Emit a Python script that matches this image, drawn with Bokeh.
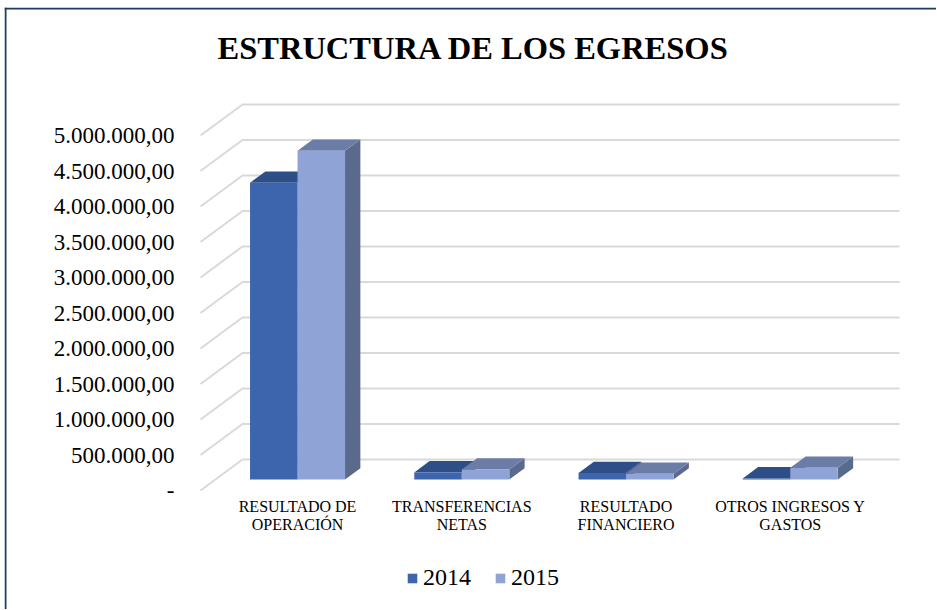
from bokeh.plotting import figure
from bokeh.models import Legend, LegendItem, Label, Span
from bokeh.core.properties import value
from bokeh.embed import file_html
from bokeh.resources import INLINE

# ---------------- data ----------------
categories = ["RESULTADO DE\nOPERACIÓN", "TRANSFERENCIAS\nNETAS",
              "RESULTADO\nFINANCIERO", "OTROS INGRESOS Y\nGASTOS"]
series_names = ["2014", "2015"]
values_2014 = [4180000, 100000, 90000, 15000]
values_2015 = [4630000, 140000, 80000, 165000]
y_ticks = [0, 500000, 1000000, 1500000, 2000000, 2500000,
           3000000, 3500000, 4000000, 4500000, 5000000]
y_tick_labels = ["-", "500.000,00", "1.000.000,00", "1.500.000,00",
                 "2.000.000,00", "2.500.000,00", "3.000.000,00",
                 "3.500.000,00", "4.000.000,00", "4.500.000,00",
                 "5.000.000,00"]
title_text = "ESTRUCTURA DE LOS EGRESOS"

# ---------------- layout constants (pixels on the page) ----------------
OX, OY = 4, 7            # page position of canvas origin
W, H = 932, 602
FRAME_L, FRAME_R, FRAME_T, FRAME_B = OX, OX + W, OY, OY + H
PX_X = 164.25            # px per category
PX_Y = 71.0 / 1e6        # px per unit value
FRONT_Y0 = 490           # page y of value 0 at front
WALL_DX_PX, WALL_DY_PX = 42, 31
F0, F1 = 0.355, 0.72     # bar depth (fraction of wall depth)
BAR_W = 47.5 / PX_X
CAT_LABEL_TOP = 497      # page y of the category label tops
TITLE_X, TITLE_Y = 473, 47
YLABEL_RIGHT = 174       # page x where value labels end
BORDER_X, BORDER_Y = 5, 8

WDX = WALL_DX_PX / PX_X
WDY = WALL_DY_PX / PX_Y
SX0, SY0 = F0 * WDX, F0 * WDY
BDX, BDY = (F1 - F0) * WDX, (F1 - F0) * WDY
XL0 = -0.5 - SX0         # data x of the floor's front-left corner
n = len(categories)

def dx(px):   # page x -> data x
    return XL0 + (px - 200) / PX_X

def dy(py):   # page y -> data y
    return (FRONT_Y0 - py) / PX_Y

p = figure(width=W, height=H, x_range=(dx(FRAME_L), dx(FRAME_R)),
           y_range=(dy(FRAME_B), dy(FRAME_T)),
           output_backend="svg", toolbar_location=None,
           x_axis_location=None, y_axis_location=None,
           min_border_left=0, min_border_right=0,
           min_border_top=0, min_border_bottom=0,
           margin=(OY, 0, 0, OX))
p.outline_line_color = None
p.background_fill_color = "white"
p.border_fill_color = "white"
p.grid.visible = False

# chart-area border (left and top edges)
p.add_layout(Span(location=dx(BORDER_X), dimension="height",
                  line_color="#1f3864", line_width=2))
p.add_layout(Span(location=dy(BORDER_Y), dimension="width",
                  line_color="#1f3864", line_width=2))

# title
p.add_layout(Label(x=dx(TITLE_X), y=dy(TITLE_Y), text=title_text,
                   text_align="center", text_baseline="middle",
                   text_font="Liberation Serif", text_font_size="32.5px",
                   text_font_style="bold", text_color="black"))

# gridlines on side + back wall
gx, gy = [], []
for v in y_ticks:
    gx.append([XL0, XL0 + WDX, XL0 + n + WDX])
    gy.append([v, v + WDY, v + WDY])
p.multi_line(gx, gy, line_color="#d9d9d9", line_width=2)

# value labels
p.text(x=[dx(YLABEL_RIGHT)] * len(y_ticks), y=y_ticks, text=y_tick_labels,
       text_align="right", text_baseline="middle",
       text_font=value("Liberation Serif"), text_font_size="23px",
       text_color="black")

# bars
def faces(vals, left):
    tx, ty, sx, sy = [], [], [], []
    for i, v in enumerate(vals):
        xl = i + left
        xr = xl + BAR_W
        yt = v + SY0
        tx.append([xl, xr, xr + BDX, xl + BDX])
        ty.append([yt, yt, yt + BDY, yt + BDY])
        sx.append([xr, xr + BDX, xr + BDX, xr])
        sy.append([SY0, SY0 + BDY, yt + BDY, yt])
    return tx, ty, sx, sy

xs_idx = list(range(n))
renderers = []
styles = [("#3c65ad", "#2e4e87", "#2a4679", -BAR_W),
          ("#8fa3d6", "#6b7ca6", "#5a6a8d", 0.0)]
for vals, (cf, ct, cs, left) in zip([values_2014, values_2015], styles):
    tx, ty, sx, sy = faces(vals, left)
    p.patches(sx, sy, fill_color=cs, line_color=None)
    p.patches(tx, ty, fill_color=ct, line_color=None)
    r = p.vbar(x=[i + left + BAR_W / 2 for i in xs_idx], width=BAR_W,
               bottom=SY0, top=[v + SY0 for v in vals],
               fill_color=cf, line_color=None)
    renderers.append(r)

# category labels (under each group)
p.text(x=xs_idx, y=[dy(CAT_LABEL_TOP)] * n, text=categories,
       text_align="center", text_baseline="top",
       text_font=value("Liberation Serif"), text_font_size="16px",
       text_color="black", text_line_height=1.1)

legend = Legend(items=[LegendItem(label=s, renderers=[r]) for s, r in zip(series_names, renderers)],
                orientation="horizontal", location=(406 - FRAME_L, FRAME_B - 591),
                label_text_font="Liberation Serif", label_text_font_size="24px",
                label_text_color="black", glyph_width=12, glyph_height=12,
                label_standoff=5, spacing=23, padding=0, margin=0,
                border_line_color=None, background_fill_alpha=0)
p.add_layout(legend, "center")

open("out.html", "w").write(file_html(p, INLINE))
